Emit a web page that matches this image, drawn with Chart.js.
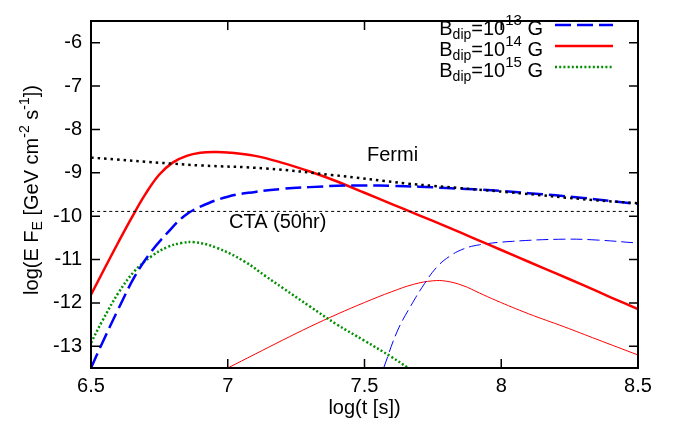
<html lang="en">

<head>
  <meta charset="UTF-8">
  <script src="https://cdn.jsdelivr.net/npm/chart.js@4.4.0/dist/chart.umd.min.js"></script>
  <title>Light curves log(E F_E) vs log(t)</title>
  <style>
    body { margin: 0; background: #fff; }
  </style>
</head>

<body>
  <canvas id="myChart" width="680" height="430"></canvas>
  <script>
    // tick labels
    const xTicks = [6.5, 7, 7.5, 8, 8.5];
    const yTicks = [-13, -12, -11, -10, -9, -8, -7, -6];

    // B_dip = 1e13 G (thick dashed)
    const b13X = [6.5, 6.54, 6.6, 6.66, 6.72, 6.78, 6.84, 6.9, 7.0, 7.1, 7.2, 7.3, 7.4, 7.5, 7.6, 7.7, 7.8, 7.9, 8.0, 8.1, 8.2, 8.3, 8.4, 8.5];
    const b13Y = [-13.5, -12.94, -12.14, -11.39, -10.82, -10.38, -10.0, -9.78, -9.55, -9.44, -9.37, -9.33, -9.3, -9.29, -9.3, -9.32, -9.35, -9.38, -9.42, -9.47, -9.52, -9.58, -9.65, -9.72];
    // B_dip = 1e14 G (thick solid)
    const b14X = [6.5, 6.55, 6.6, 6.65, 6.7, 6.75, 6.8, 6.85, 6.9, 6.95, 7.0, 7.1, 7.2, 7.3, 7.4, 7.5, 7.6, 7.7, 7.8, 7.9, 8.0, 8.1, 8.2, 8.3, 8.4, 8.5];
    const b14Y = [-11.81, -11.2, -10.6, -10.02, -9.48, -9.04, -8.76, -8.61, -8.54, -8.52, -8.53, -8.61, -8.77, -8.97, -9.2, -9.46, -9.72, -9.98, -10.24, -10.51, -10.78, -11.05, -11.32, -11.59, -11.87, -12.14];
    // B_dip = 1e15 G (dotted)
    const b15X = [6.5, 6.54, 6.6, 6.66, 6.72, 6.78, 6.83, 6.88, 6.96, 7.06, 7.14, 7.2, 7.3, 7.4, 7.5, 7.6, 7.66];
    const b15Y = [-12.92, -12.43, -11.77, -11.26, -10.93, -10.71, -10.62, -10.6, -10.73, -11.04, -11.39, -11.65, -12.08, -12.5, -12.87, -13.25, -13.5];
    // thin components
    const b13bX = [7.57, 7.62, 7.67, 7.72, 7.765, 7.81, 7.86, 7.92, 8.04, 8.23, 8.35, 8.5];
    const b13bY = [-13.5, -12.65, -12.06, -11.55, -11.17, -10.93, -10.76, -10.66, -10.58, -10.53, -10.55, -10.62];
    const b14bX = [7.0, 7.1, 7.2, 7.3, 7.4, 7.5, 7.6, 7.68, 7.75, 7.8, 7.86, 7.92, 7.98, 8.1, 8.23, 8.35, 8.5];
    const b14bY = [-13.5, -13.18, -12.86, -12.55, -12.26, -11.99, -11.74, -11.57, -11.49, -11.5, -11.6, -11.77, -11.94, -12.25, -12.55, -12.84, -13.2];
    // sensitivities
    const fermiX = [6.5, 6.8, 6.9, 7.14, 7.38, 7.66, 7.75, 8.03, 8.34, 8.5];
    const fermiY = [-8.65, -8.79, -8.83, -8.9, -9.05, -9.25, -9.3, -9.45, -9.63, -9.7];
    const ctaX = [6.5, 8.5];
    const ctaY = [-9.89, -9.89];

    const FONT = '"Liberation Sans", Arial, Helvetica, sans-serif';

    function pts(xs, ys) {
      return xs.map((x, i) => ({ x: x, y: ys[i] }));
    }

    function line(data, color, width, dash) {
      return {
        data: data,
        showLine: true,
        borderColor: color,
        borderWidth: width,
        borderDash: dash,
        pointRadius: 0,
        tension: 0.4,
        fill: false
      };
    }

    // draw text pieces: [text, size, dy]
    function drawRich(ctx, parts, x, y) {
      let cx = x;
      parts.forEach(p => {
        ctx.font = p[1] + 'px ' + FONT;
        ctx.fillText(p[0], cx, y + p[2]);
        cx += ctx.measureText(p[0]).width;
      });
      return cx;
    }

    function richWidth(ctx, parts) {
      let w = 0;
      parts.forEach(p => {
        ctx.font = p[1] + 'px ' + FONT;
        w += ctx.measureText(p[0]).width;
      });
      return w;
    }

    const legendItems = [
      { sup: '13', color: '#0000ff', width: 2.5, dash: [16, 6] },
      { sup: '14', color: '#ff0000', width: 2.5, dash: [] },
      { sup: '15', color: '#009000', width: 2.5, dash: [2, 2.2] }
    ];

    const decor = {
      id: 'decor',
      afterDraw(chart) {
        const ctx = chart.ctx;
        const a = chart.chartArea;
        const xs = chart.scales.x, ys = chart.scales.y;
        ctx.save();

        // frame and inner ticks
        ctx.strokeStyle = '#000';
        ctx.lineWidth = 2;
        ctx.setLineDash([]);
        ctx.strokeRect(a.left, a.top, a.right - a.left, a.bottom - a.top);
        ctx.lineWidth = 1.5;
        ctx.beginPath();
        xTicks.forEach(v => {
          const px = xs.getPixelForValue(v);
          ctx.moveTo(px, a.bottom); ctx.lineTo(px, a.bottom - 9);
          ctx.moveTo(px, a.top); ctx.lineTo(px, a.top + 9);
        });
        yTicks.forEach(v => {
          const py = ys.getPixelForValue(v);
          ctx.moveTo(a.left, py); ctx.lineTo(a.left + 9, py);
          ctx.moveTo(a.right, py); ctx.lineTo(a.right - 9, py);
        });
        ctx.stroke();

        ctx.fillStyle = '#000';
        ctx.textBaseline = 'alphabetic';
        ctx.textAlign = 'left';

        // labels for sensitivity curves
        ctx.font = '20px ' + FONT;
        ctx.fillText('Fermi', 367, 161);
        ctx.fillText('CTA (50hr)', 229, 228);

        // legend
        legendItems.forEach((it, i) => {
          const base = 35 + i * 21;
          const parts = [['B', 20, 0], ['dip', 14, 4], ['=10', 20, 0], [it.sup, 15, -10], [' G', 20, 0]];
          const w = richWidth(ctx, parts);
          drawRich(ctx, parts, 543 - w, base);
          ctx.strokeStyle = it.color;
          ctx.lineWidth = it.width;
          ctx.setLineDash(it.dash);
          ctx.beginPath();
          ctx.moveTo(555, base - 10);
          ctx.lineTo(613, base - 10);
          ctx.stroke();
        });
        ctx.setLineDash([]);

        // x title
        ctx.font = '20px ' + FONT;
        ctx.textAlign = 'center';
        ctx.fillText('log(t [s])', (a.left + a.right) / 2, 414);

        // y title, rotated
        ctx.textAlign = 'left';
        const yParts = [['log(E F', 20, 0], ['E', 14, 4], [' [GeV cm', 20, 0], ['-2', 14, -9], [' s', 20, 0], ['-1', 14, -9], ['])', 20, 0]];
        const tw = richWidth(ctx, yParts);
        ctx.translate(38, 190);
        ctx.rotate(-Math.PI / 2);
        drawRich(ctx, yParts, -tw / 2, 0);
        ctx.restore();
      }
    };

    const ctx = document.getElementById('myChart').getContext('2d');
    const myChart = new Chart(ctx, {
      type: 'scatter',
      data: {
        datasets: [
          line(pts(fermiX, fermiY), '#000000', 2.5, [2.5, 4]),
          line(pts(ctaX, ctaY), '#000000', 1, [3, 3]),
          line(pts(b13X, b13Y), '#0000ff', 2.5, [16, 6]),
          line(pts(b14X, b14Y), '#ff0000', 2.5, []),
          line(pts(b15X, b15Y), '#009000', 2.5, [2, 2.2]),
          line(pts(b13bX, b13bY), '#0000ff', 1, [12, 5]),
          line(pts(b14bX, b14bY), '#ff0000', 1, [])
        ]
      },
      options: {
        responsive: false,
        animation: false,
        layout: { padding: { left: 0, right: 42, top: 6, bottom: 0 } },
        plugins: { legend: { display: false }, tooltip: { enabled: false } },
        scales: {
          x: {
            type: 'linear',
            min: 6.5,
            max: 8.5,
            afterBuildTicks: axis => { axis.ticks = xTicks.map(v => ({ value: v })); },
            afterFit: axis => { axis.height = 62; },
            grid: { display: false, drawTicks: false },
            border: { display: false },
            ticks: {
              padding: 6,
              maxRotation: 0,
              autoSkip: false,
              color: '#000',
              font: { family: FONT, size: 20 },
              callback: value => String(value)
            }
          },
          y: {
            type: 'linear',
            min: -13.5,
            max: -5.5,
            afterBuildTicks: axis => { axis.ticks = yTicks.map(v => ({ value: v })); },
            afterFit: axis => { axis.width = 91; },
            grid: { display: false, drawTicks: false },
            border: { display: false },
            ticks: {
              padding: 9,
              autoSkip: false,
              color: '#000',
              font: { family: FONT, size: 20 },
              callback: value => String(value)
            }
          }
        }
      },
      plugins: [decor]
    });
  </script>
</body>

</html>
